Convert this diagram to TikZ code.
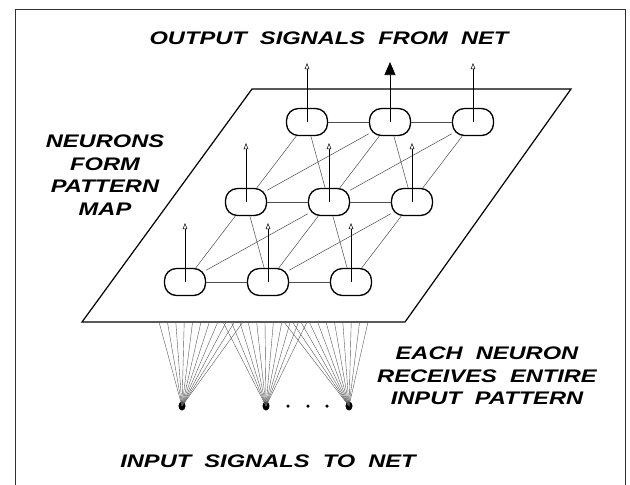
\documentclass[tikz,border=0pt]{standalone}
\usepackage{fontspec}
\usetikzlibrary{arrows.meta, shapes.geometric}
\newfontfamily\labelfont{Liberation Sans}[FakeStretch=1.3]
\tikzset{
    neuron/.style={draw, line width=1.3pt, rounded corners=12pt,
        minimum width=41pt, minimum height=27pt, inner sep=0pt},
    link/.style={line width=0.5pt, black!70},
    outsig/.style={line width=0.5pt, -{Triangle[open,length=6pt,width=4.5pt]}},
    mainsig/.style={line width=0.7pt, -{Triangle[length=13pt,width=11pt]}},
    fan/.style={line width=0.4pt, black!65},
    caption/.style={align=center, inner sep=0pt,
        font=\labelfont\bfseries\itshape\fontsize{18.2}{22.5}\selectfont},
}
\begin{document}
\begin{tikzpicture}[x=1pt, y=-1pt]
    \useasboundingbox (0, 0) rectangle (630, 485);
    \draw[line width=1pt, black!80]
        (15, 490) -- (15, 9) -- (625, 9) -- (625, 490);

    \draw[line width=1.2pt]
        (82, 322) -- (405, 322) -- (571, 89) -- (252, 89) -- cycle;

    \foreach \r in {0, 1, 2}
        \foreach \c in {0, 1, 2}
            \node[neuron] (n-\r-\c) at (307 + 83*\c - 61*\r, 122 + 80*\r) {};

    \foreach \r in {0, 1, 2} {
        \draw[link] (n-\r-0) -- (n-\r-1);
        \draw[link] (n-\r-1) -- (n-\r-2);
    }
    \foreach \r/\s in {0/1, 1/2}
        \foreach \c in {0, 1, 2} {
            \draw[link] (n-\r-\c) -- (n-\s-\c);
            \ifnum\c<2 \draw[link] (n-\r-\c) -- (n-\s-\the\numexpr\c+1\relax); \fi
            \ifnum\c>0 \draw[link] (n-\r-\c) -- (n-\s-\the\numexpr\c-1\relax); \fi
        }

    \foreach \r/\c in {0/0, 0/2, 1/0, 1/1, 1/2, 2/0, 2/1, 2/2}
        \draw[outsig] (n-\r-\c.center) -- ++(0, -59);
    \draw[mainsig] (n-0-1.center) -- ++(0, -60);

    \foreach \i/\x/\m in {1/182/201, 2/266/265, 3/349/326} {
        \node[fill, ellipse, minimum width=7pt, minimum height=9pt, inner sep=0pt]
            (in\i) at (\x, 406) {};
        \foreach \k in {0, ..., 10}
            \draw[fan] (in\i.center) -- (\m - 42 + 8.4*\k, 322);
    }
    \foreach \x [count=\j] in {288, 308, 327}
        \node[circle, fill, inner sep=0pt, minimum size=3.5pt] (gap\j) at (\x, 406) {};

    \node[caption] (outlabel) at (329, 38) {OUTPUT\ \ SIGNALS\ \ FROM\ \ NET};
    \node[caption] (maplabel) at (105, 175) {NEURONS\\FORM\\PATTERN\\MAP};
    \node[caption] (eachlabel) at (487, 376) {EACH\ \ NEURON\\RECEIVES\ \ ENTIRE\\INPUT\ \ PATTERN};
    \node[caption] (inlabel) at (268, 461) {INPUT\ \ SIGNALS\ \ TO\ \ NET};
\end{tikzpicture}
\end{document}
